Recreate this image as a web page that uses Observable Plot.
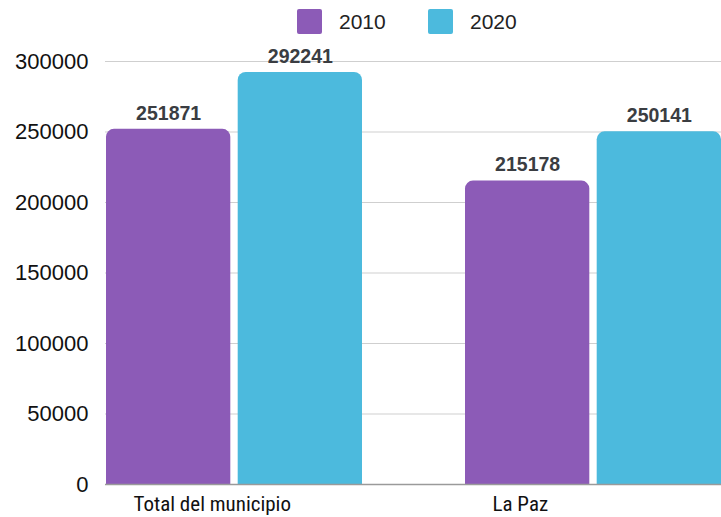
<!DOCTYPE html>
<html>
<head>
<meta charset="utf-8">
<script src="https://cdn.jsdelivr.net/npm/d3@7"></script>
<script src="https://cdn.jsdelivr.net/npm/@observablehq/plot@0.6"></script>
<style>
  html, body { margin: 0; padding: 0; background: #fff; }
  #legend { height: 44px; position: relative; font-family: "Liberation Sans", Arial, sans-serif; font-size: 21px; color: #222; }
  .item { position: absolute; top: 9px; display: flex; align-items: center; }
  .sw { width: 25px; height: 25px; border-radius: 2px; margin-right: 17px; }
  #chart svg { display: block; }
</style>
</head>
<body>
<div id="legend"></div>
<div id="chart"></div>
<script>
const categories = ["Total del municipio", "La Paz"];
const years = ["2010", "2020"];
const values2010 = [251871, 215178];
const values2020 = [292241, 250141];
const yTicks = [0, 50000, 100000, 150000, 200000, 250000, 300000];
const colors = ["#8c5bb7", "#4cbadd"];

const data = [];
categories.forEach((c, i) => {
  data.push({category: c, year: years[0], value: values2010[i]});
  data.push({category: c, year: years[1], value: values2020[i]});
});
const d2010 = data.filter(d => d.year === years[0]);
const d2020 = data.filter(d => d.year === years[1]);

// legend
const legend = document.getElementById("legend");
const legendX = [297, 428];
years.forEach((y, i) => {
  const it = document.createElement("div");
  it.className = "item";
  it.style.left = legendX[i] + "px";
  const sw = document.createElement("div");
  sw.className = "sw";
  sw.style.background = colors[i];
  const t = document.createElement("span");
  t.textContent = y;
  it.appendChild(sw); it.appendChild(t);
  legend.appendChild(it);
});

// layout of the two bars inside a category band (pixels)
const W = 721, ML = 105, MR = 0, PAD = 0.287;
const bw = (W - ML - MR) / (categories.length - PAD) * (1 - PAD);
const gap = 7;
const half = bw / 2 + gap / 2;
const off = bw / 4 + gap / 4;

const textOpts = {fontWeight: "bold", fontSize: 19.5, fill: "#3a3d42", dy: -16,
  fontFamily: "'Liberation Sans', Arial, sans-serif"};

const chart = Plot.plot({
  width: W,
  height: 473,
  marginTop: 17,
  marginBottom: 33,
  marginLeft: ML,
  marginRight: MR,
  style: {fontFamily: "'Liberation Sans', Arial, sans-serif", background: "#fff"},
  x: {domain: categories, paddingInner: PAD, paddingOuter: 0, label: null},
  y: {domain: [0, 300000], ticks: yTicks, label: null},
  color: {domain: years, range: colors},
  marks: [
    Plot.ruleY(yTicks.filter(t => t > 0), {stroke: "#cfcfcf", strokeWidth: 1}),
    Plot.barY(d2010, {x: "category", y: "value", fill: "year", ry1: 8, rx1y1: 8, rx2y1: 8, insetRight: half}),
    Plot.barY(d2020, {x: "category", y: "value", fill: "year", ry1: 8, rx1y1: 8, rx2y1: 8, insetLeft: half}),
    Plot.ruleY([0], {stroke: "#9a9a9a", strokeWidth: 1.5}),
    Plot.text(d2010, {x: "category", y: "value", text: d => String(d.value), dx: -off, ...textOpts}),
    Plot.text(d2020, {x: "category", y: "value", text: d => String(d.value), dx: off, ...textOpts}),
    Plot.axisY({ticks: yTicks, tickSize: 0, tickPadding: 17, fontSize: 22, tickFormat: d => String(d), label: null, color: "#111"}),
    Plot.axisX({tickSize: 0, tickPadding: 12, fontSize: 21, textAnchor: "start", dx: -101, label: null,
      fontFamily: "'Liberation Sans Narrow', 'Roboto Condensed', Roboto, sans-serif", color: "#111"})
  ]
});
document.getElementById("chart").appendChild(chart);
</script>
</body>
</html>
